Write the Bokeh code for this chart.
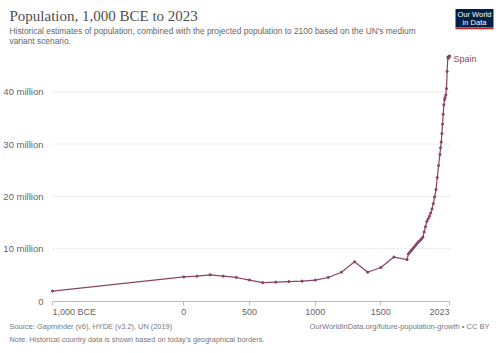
from bokeh.plotting import figure
from bokeh.models import Range1d, FixedTicker, Label, BoxAnnotation, LinearAxis
from bokeh.embed import file_html
from bokeh.resources import INLINE

# ---- data (Spain, population in millions) ----
years = [-1000, 0, 100, 200, 300, 400, 500, 600, 700, 800, 900, 1000, 1100, 1200,
         1300, 1400, 1500, 1600, 1700, 1710, 1720, 1730, 1740, 1750, 1760, 1770,
         1780, 1790, 1800, 1810, 1820, 1830, 1840, 1850, 1860, 1870, 1880, 1890,
         1900, 1910, 1920, 1930, 1940, 1950, 1955, 1960, 1965, 1970, 1975, 1980,
         1985, 1990, 1995, 2000, 2005, 2010, 2015, 2019, 2020, 2021, 2022, 2023]
population_m = [1.9, 4.6, 4.75, 5.0, 4.75, 4.5, 4.0, 3.5, 3.6, 3.7, 3.8, 4.0, 4.5, 5.5,
                7.5, 5.5, 6.4, 8.4, 7.9, 9.0, 9.3, 9.6, 9.9, 10.2, 10.5, 10.8,
                11.1, 11.4, 11.6, 11.9, 12.2, 13.2, 14.2, 15.2, 15.7, 16.2, 16.8, 17.6,
                18.6, 19.9, 21.3, 23.6, 25.9, 28.0, 29.3, 30.4, 32.0, 33.8, 35.7, 37.5,
                38.5, 38.9, 39.4, 40.6, 43.9, 46.6, 46.4, 46.7, 46.75, 46.77, 46.79, 46.8]
series_name = "Spain"

x_ticks = [-1000, 0, 500, 1000, 1500, 2023]
x_tick_labels = ["1,000 BCE", "0", "500", "1000", "1500", "2023"]
y_ticks = [0, 10, 20, 30, 40]
y_tick_labels = ["0", "10 million", "20 million", "30 million", "40 million"]

title = "Population, 1,000 BCE to 2023"
subtitle = ["Historical estimates of population, combined with the projected population to 2100 based on the UN's medium",
            "variant scenario."]
source_note = ["Source: Gapminder (v6), HYDE (v3.2), UN (2019)",
               "Note: Historical country data is shown based on today's geographical borders."]
footer_right = "OurWorldInData.org/future-population-growth \u2022 CC BY"

LINE = "#8a4466"
SANS = "Liberation Sans"
W, H = 500, 353

# pixel geometry of the plotting area (canvas pixels, from top-left)
PX_LEFT, PX_RIGHT = 52, 449      # x of first / last year
PY_ZERO, PY_40 = 300.5, 91.3     # y of 0 and 40 million
x0, x1 = years[0], years[-1]
kx = (PX_RIGHT - PX_LEFT) / (x1 - x0)
ky = (PY_ZERO - PY_40) / 40.0
x_range = Range1d(x0 - PX_LEFT / kx, x1 + (W - PX_RIGHT) / kx)
y_range = Range1d(-(H - PY_ZERO) / ky, PY_ZERO / ky)

p = figure(width=W, height=H, output_backend="svg", toolbar_location=None,
           x_range=x_range, y_range=y_range, x_axis_location=None, y_axis_location=None,
           min_border=0, min_border_left=0, min_border_right=0, min_border_top=0,
           min_border_bottom=0)
p.outline_line_color = None
p.background_fill_color = "white"
p.border_fill_color = "white"
p.xgrid.visible = False
p.ygrid.visible = False

# gridlines (dashed), from the first to the last year
p.segment(x0=[x0] * 4, x1=[x1 + 8] * 4, y0=y_ticks[1:], y1=y_ticks[1:],
          line_color="#dddddd", line_dash="2 2", line_width=1)

# y axis (inside the canvas, fixed at the first year)
yax = LinearAxis(fixed_location=x0, ticker=FixedTicker(ticks=y_ticks),
                 major_label_overrides={t: l for t, l in zip(y_ticks, y_tick_labels)})
yax.axis_line_color = None
yax.major_tick_line_color = None
yax.minor_tick_line_color = None
yax.major_label_text_font = SANS
yax.major_label_text_font_size = "9.5px"
yax.major_label_text_color = "#666666"
yax.major_label_standoff = 3
p.add_layout(yax, "left")

# x axis (fixed at 0)
xax = LinearAxis(fixed_location=0, ticker=FixedTicker(ticks=x_ticks), bounds=(x0, x1))
xax.axis_line_color = "#bbbbbb"
xax.major_tick_line_color = "#bbbbbb"
xax.major_tick_out = 4
xax.major_tick_in = 0
xax.minor_tick_line_color = None
xax.major_label_text_alpha = 0
p.add_layout(xax, "below")

# series
p.line(years, population_m, line_color=LINE, line_width=1.2)
p.scatter(years, population_m, size=2.2, color=LINE)
p.add_layout(Label(x=years[-1], y=population_m[-1], x_units="data", y_units="data",
                   x_offset=4, y_offset=-2.5, text=series_name, text_font=SANS,
                   text_font_size="9px", text_color=LINE, text_baseline="middle"))

# x tick labels (edge labels aligned inward)
for i, (t, l) in enumerate(zip(x_ticks, x_tick_labels)):
    al = "left" if i == 0 else ("right" if i == len(x_ticks) - 1 else "center")
    p.add_layout(Label(x=t, y=H - 311, x_units="data", y_units="screen", text=l,
                       text_font=SANS, text_font_size="9px", text_color="#666666",
                       text_align=al, text_baseline="middle"))

# header / footer texts (screen units: frame == canvas)
def lab(cx, cy, text, size, color="#666666", font=SANS, align="left"):
    p.add_layout(Label(x=cx, y=H - cy, x_units="screen", y_units="screen", text=text,
                       text_font=font, text_font_size=size, text_color=color,
                       text_align=align, text_baseline="middle"))

lab(9, 15, title, "15px", "#4e4e4e", font="Liberation Serif")
lab(9, 30, subtitle[0], "8.4px")
lab(9, 40.5, subtitle[1], "8.4px")
lab(9, 326, source_note[0], "7.4px", "#777777")
lab(9, 338.5, source_note[1], "7.4px", "#777777")
lab(489, 326, footer_right, "7.5px", "#777777", align="right")

# logo
def box(l, r, t, b, color):
    p.add_layout(BoxAnnotation(left=l, right=r, top=H - t, bottom=H - b,
                               left_units="screen", right_units="screen", top_units="screen",
                               bottom_units="screen", fill_color=color, fill_alpha=1,
                               line_color=None))

box(455, 493, 8.5, 26.7, "#002147")
box(455, 493, 26.7, 28.7, "#ce261e")
lab(474, 14, "Our World", "7.5px", "white", align="center")
lab(474, 21.5, "in Data", "7.5px", "white", align="center")

open("out.html", "w").write(file_html(p, INLINE))
